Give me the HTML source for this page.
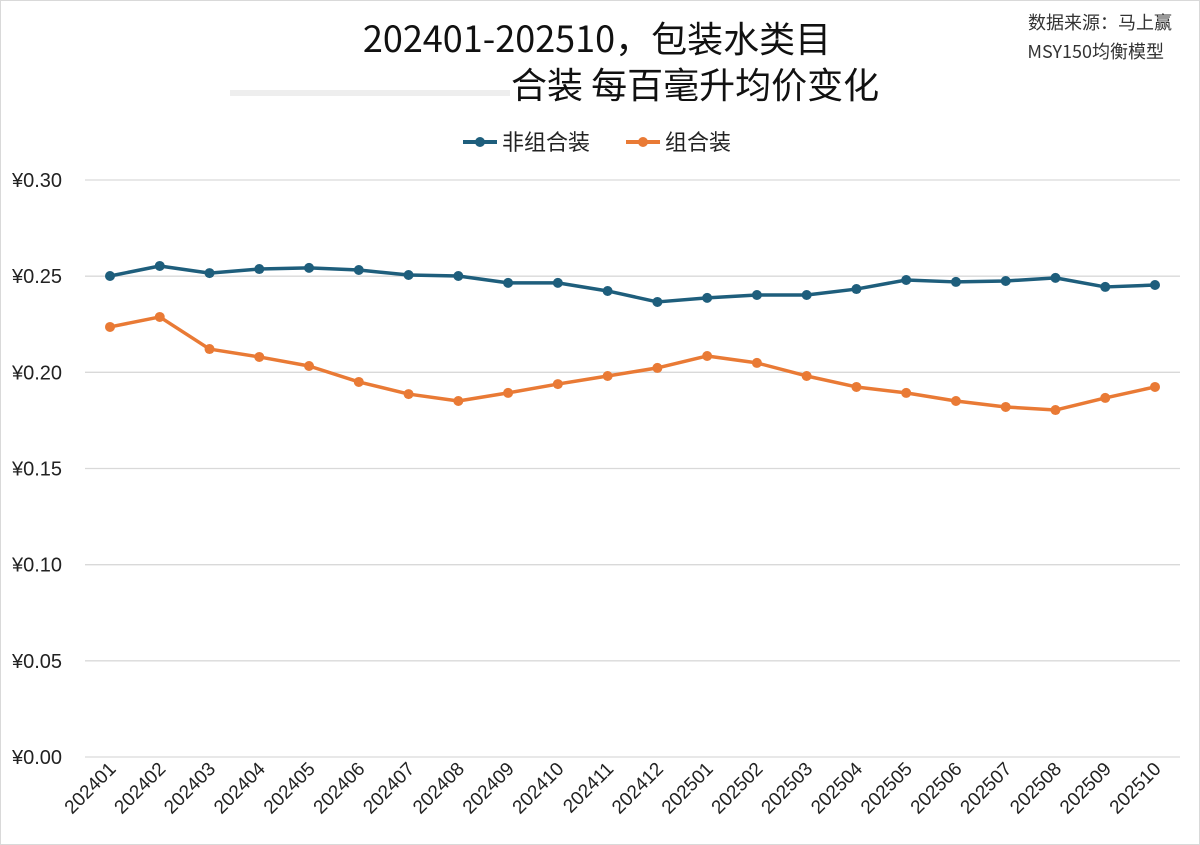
<!DOCTYPE html>
<html><head><meta charset="utf-8"><style>
html,body{margin:0;padding:0;background:#fff;}
svg{display:block;font-family:"Liberation Sans","Noto Sans CJK SC",sans-serif;}
</style></head><body>
<svg id="chart" width="1200" height="845" viewBox="0 0 1200 845">
<rect x="0.5" y="0.5" width="1199" height="844" fill="#fff" stroke="#d9d9d9"/>
<text x="597" y="52" text-anchor="middle" font-size="36" fill="#111" font-family="Noto Sans CJK SC, sans-serif">202401-202510，包装水类目</text>
<rect x="230" y="90" width="280" height="6" fill="#eee"/>
<text x="511" y="98" font-size="36" fill="#111" font-family="Noto Sans CJK SC, sans-serif">合装 每百毫升均价变化</text>
<text x="1172" y="29" text-anchor="end" font-size="18" fill="#333" font-family="Noto Sans CJK SC, sans-serif">数据来源：马上赢</text>
<text x="1164" y="58" text-anchor="end" font-size="18" fill="#333" font-family="Noto Sans CJK SC, sans-serif">MSY150均衡模型</text>
<g>
<g>
<line x1="463" y1="142" x2="497" y2="142" stroke="#1e5e7c" stroke-width="4"/><circle cx="480" cy="142" r="5" fill="#1e5e7c"/>
<text x="502" y="150" font-size="22" fill="#222" font-family="Noto Sans CJK SC, sans-serif">非组合装</text></g>
<g>
<line x1="626" y1="142" x2="660" y2="142" stroke="#e97a35" stroke-width="4"/><circle cx="643" cy="142" r="5" fill="#e97a35"/>
<text x="665" y="150" font-size="22" fill="#222" font-family="Noto Sans CJK SC, sans-serif">组合装</text></g>
</g>
<g id="grid"></g><g id="yticks"></g><g id="xticks"></g><g id="series"></g>
</svg>
<script>
const categories=["202401","202402","202403","202404","202405","202406","202407","202408","202409","202410","202411","202412","202501","202502","202503","202504","202505","202506","202507","202508","202509","202510"];
const nonCombo=[0.2501,0.2553,0.2516,0.2537,0.2543,0.2532,0.2506,0.2501,0.2465,0.2465,0.2423,0.2366,0.2387,0.2402,0.2402,0.2433,0.2480,0.2470,0.2475,0.2491,0.2444,0.2454];
const combo=[0.2236,0.2288,0.2121,0.2080,0.2033,0.1950,0.1887,0.1851,0.1893,0.1939,0.1981,0.2023,0.2085,0.2049,0.1981,0.1924,0.1893,0.1851,0.1820,0.1804,0.1867,0.1924];
const yTicks=[0,0.05,0.10,0.15,0.20,0.25,0.30];
const yTickLabels=["¥0.00","¥0.05","¥0.10","¥0.15","¥0.20","¥0.25","¥0.30"];
const NS="http://www.w3.org/2000/svg";
const x0=110,x1=1155,yTop=180,yBot=757,yMax=0.30;
function xs(i){return x0+(x1-x0)*i/(categories.length-1);}
function ys(v){return yBot-(yBot-yTop)*v/yMax;}
function mk(tag,attrs,parent){const e=document.createElementNS(NS,tag);for(const k in attrs)e.setAttribute(k,attrs[k]);parent.appendChild(e);return e;}
const grid=document.getElementById('grid'),yt=document.getElementById('yticks'),xt=document.getElementById('xticks'),ser=document.getElementById('series');
yTicks.forEach((v,i)=>{
 const l=mk('line',{x1:85,x2:1180,y1:ys(v),y2:ys(v),stroke:'#d9d9d9','stroke-width':1.3},grid);
 
 
 const t=mk('text',{x:12,y:ys(v)+7,'font-size':20,fill:'#222'},yt);
 t.textContent=yTickLabels[i];
 
 
});
categories.forEach((c,i)=>{
 const x=xs(i)+7,y=770;
 const t=mk('text',{x:x,y:y,'font-size':19,fill:'#222','text-anchor':'end',transform:`rotate(-45 ${x} ${y})`},xt);
 t.textContent=c;
 
 
});
function draw(data,color,name){
 const g=mk('g',{},ser);
 
 
 const p=mk('polyline',{points:data.map((v,i)=>xs(i)+','+ys(v)).join(' '),fill:'none',stroke:color,'stroke-width':3.5,'stroke-linejoin':'round'},g);
 
 
 data.forEach((v,i)=>{
  const c=mk('circle',{cx:xs(i),cy:ys(v),r:5,fill:color},g);
  
  
 });
}
draw(nonCombo,'#1e5e7c','non-combo');
draw(combo,'#e97a35','combo');
</script>
</body></html>
